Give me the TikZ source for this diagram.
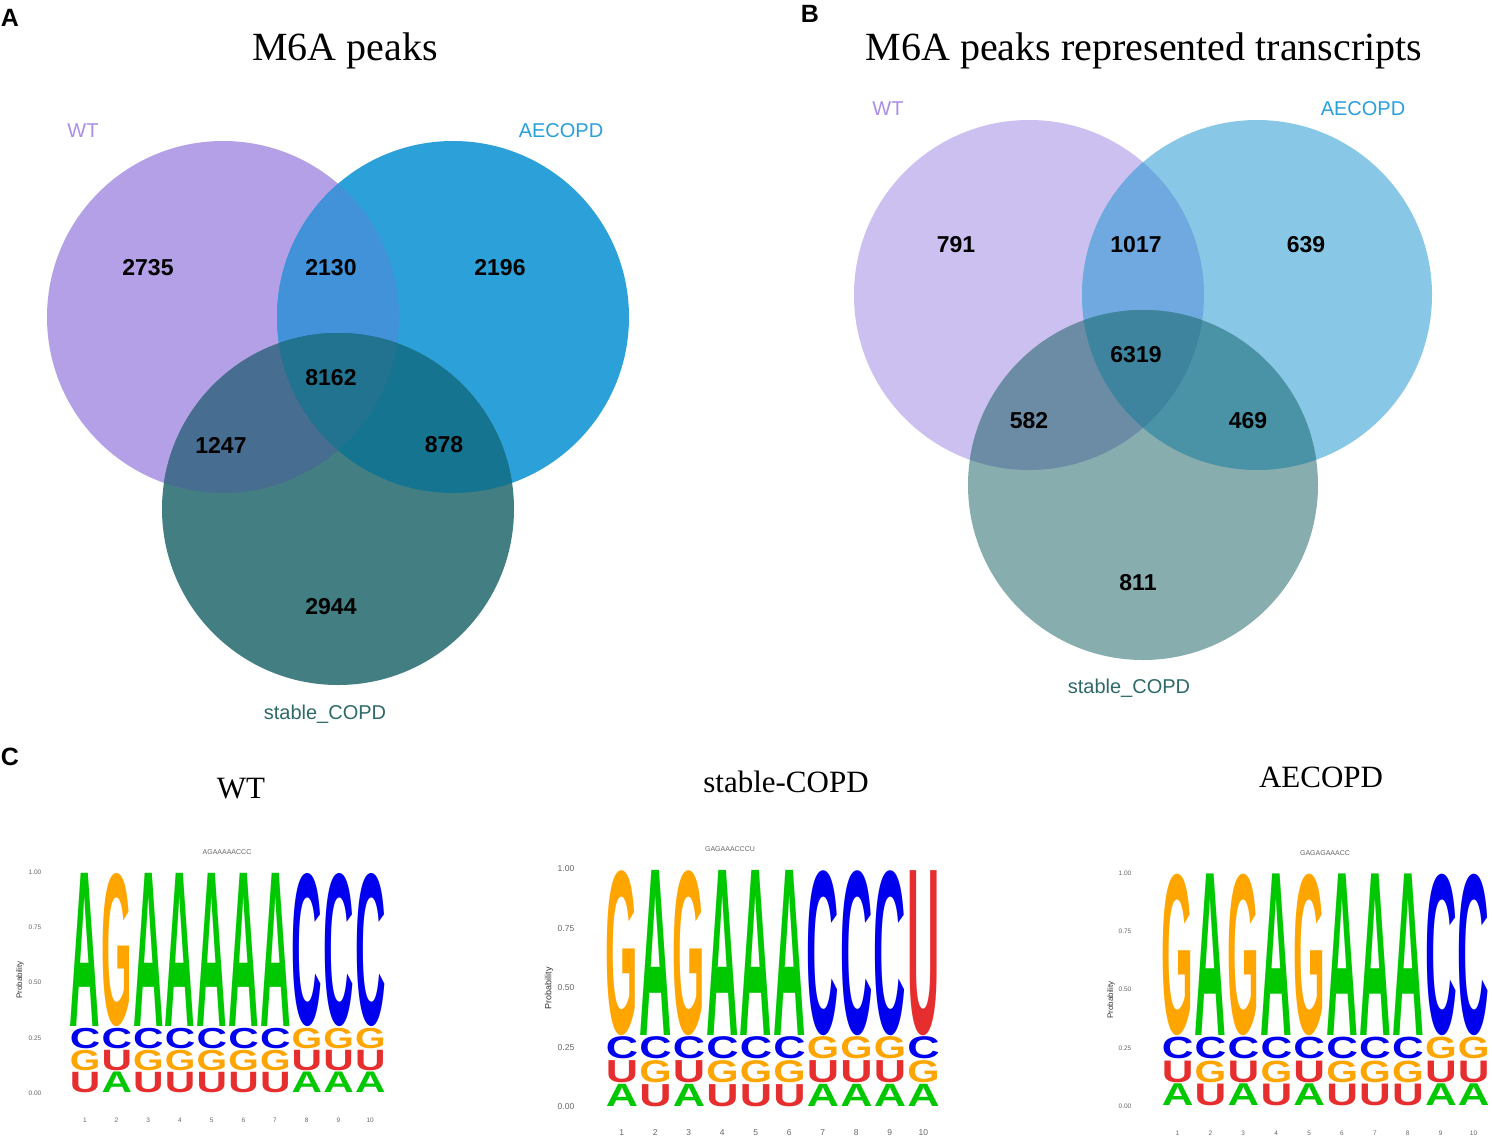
\documentclass[tikz,border=0pt]{standalone}
\usepackage{fontspec}
\setmainfont{Liberation Serif}
\setsansfont{Liberation Sans}
\newfontfamily\logofont{Liberation Sans}
\usepackage{graphicx}
% Venn colours, panel A
\definecolor{wtA}{HTML}{B3A0E6}
\definecolor{aeA}{HTML}{2CA0D8}
\definecolor{stA}{HTML}{437F82}
\definecolor{wtaeA}{HTML}{4292DA}
\definecolor{wtstA}{HTML}{476E90}
\definecolor{aestA}{HTML}{15748F}
\definecolor{allA}{HTML}{22738F}
% Venn colours, panel B
\definecolor{wtB}{HTML}{CCC0F0}
\definecolor{aeB}{HTML}{88C8E6}
\definecolor{stB}{HTML}{87ADAE}
\definecolor{wtaeB}{HTML}{6FA9DF}
\definecolor{wtstB}{HTML}{6C8CA6}
\definecolor{aestB}{HTML}{4A92A6}
\definecolor{allB}{HTML}{3E849E}
% label colours
\definecolor{wtlab}{HTML}{A98FE8}
\definecolor{aelab}{HTML}{2A9FDA}
\definecolor{stlab}{HTML}{2F6A6A}
% nucleotide colours
\definecolor{colA}{HTML}{00C800}
\definecolor{colC}{HTML}{0000EE}
\definecolor{colG}{HTML}{FFA500}
\definecolor{colU}{HTML}{E62E2E}

\tikzset{
  num/.style={font=\sffamily\bfseries\fontsize{23}{23}\selectfont, inner sep=0},
  setlab/.style={font=\sffamily\fontsize{20}{20}\selectfont, inner sep=0, anchor=base},
  bigtitle/.style={font=\fontsize{40}{40}\selectfont, inner sep=0, anchor=base},
  ctitle/.style={font=\fontsize{31}{31}\selectfont, inner sep=0, anchor=base},
  panel/.style={font=\sffamily\bfseries\fontsize{25}{25}\selectfont, inner sep=0},
  logoletter/.style={inner sep=0, anchor=south west, font=\logofont\bfseries},
  ticklab/.style={font=\sffamily\fontsize{7}{7}\selectfont, text=black!60, inner sep=0},
  problab/.style={font=\sffamily\fontsize{8}{8}\selectfont, text=black!80, inner sep=0, rotate=90},
  seqlab/.style={font=\sffamily\fontsize{7}{7}\selectfont, text=black!60, inner sep=0},
}

% #1 id, #2 x0, #3 column width, #4 y top, #5 y bottom, #6 columns (bottom/row1/row2/top)
\newcommand{\drawlogo}[6]{%
  \pgfmathsetmacro{\Hh}{#5-#4}%
  \pgfmathsetmacro{\ww}{#3-1.2}%
  \pgfmathsetmacro{\hs}{0.1*\Hh-1.6}%
  \pgfmathsetmacro{\hb}{0.7*\Hh-1.6}%
  \pgfmathsetmacro{\yA}{#5}%
  \pgfmathsetmacro{\yB}{#5-0.1*\Hh}%
  \pgfmathsetmacro{\yC}{#5-0.2*\Hh}%
  \pgfmathsetmacro{\yD}{#5-0.3*\Hh}%
  \foreach \a/\b/\c/\d [count=\i] in {#6} {
    \pgfmathsetmacro{\xx}{#2+(\i-1)*#3+0.6}
    \node[logoletter, text=col\a] (#1-\i-a) at (\xx,\yA) {\resizebox*{\ww pt}{\hs pt}{\a}};
    \node[logoletter, text=col\b] (#1-\i-b) at (\xx,\yB) {\resizebox*{\ww pt}{\hs pt}{\b}};
    \node[logoletter, text=col\c] (#1-\i-c) at (\xx,\yC) {\resizebox*{\ww pt}{\hs pt}{\c}};
    \node[logoletter, text=col\d] (#1-\i-d) at (\xx,\yD) {\resizebox*{\ww pt}{\hb pt}{\d}};
  }%
}

% #1 id, #2 x0, #3 colw, #4 ytop, #5 ybot, #6 x of y labels, #7 y of x labels, #8 font size
\newcommand{\logoaxes}[8]{%
  \foreach \v/\t [count=\k] in {0/0.00,0.25/0.25,0.5/0.50,0.75/0.75,1/1.00} {
    \pgfmathsetmacro{\yy}{#5-\v*(#5-#4)}
    \node[ticklab, font=\sffamily\fontsize{#8}{#8}\selectfont] (#1-y\k) at (#6,\yy) {\t};
  }
  \foreach \n in {1,...,10} {
    \pgfmathsetmacro{\xx}{#2+(\n-0.5)*#3}
    \node[ticklab, font=\sffamily\fontsize{#8}{#8}\selectfont] (#1-x\n) at (\xx,#7) {\n};
  }
}

\begin{document}
\begin{tikzpicture}[x=1pt,y=-1pt]
\useasboundingbox (0,0) rectangle (1492,1141);
\fill[white] (0,0) rectangle (1492,1141);

% ---------------- Panel A ----------------
\node[panel] (pA) at (10,18) {A};
\node[bigtitle] (tA) at (345,60) {M6A peaks};
\fill[wtA] (223,317) circle[radius=176];
\fill[aeA] (453,317) circle[radius=176];
\fill[stA] (338,509) circle[radius=176];
\begin{scope}\clip (223,317) circle[radius=176]; \fill[wtaeA] (453,317) circle[radius=176];\end{scope}
\begin{scope}\clip (223,317) circle[radius=176]; \fill[wtstA] (338,509) circle[radius=176];\end{scope}
\begin{scope}\clip (453,317) circle[radius=176]; \fill[aestA] (338,509) circle[radius=176];\end{scope}
\begin{scope}\clip (223,317) circle[radius=176]; \clip (453,317) circle[radius=176]; \fill[allA] (338,509) circle[radius=176];\end{scope}
\node[setlab, text=wtlab] (lWTa) at (83,137) {WT};
\node[setlab, text=aelab] (lAEa) at (561,137) {AECOPD};
\node[setlab, text=stlab] (lSTa) at (325,719) {stable\_COPD};
\node[num] (nA1) at (148,268) {2735};
\node[num] (nA2) at (331,268) {2130};
\node[num] (nA3) at (500,268) {2196};
\node[num] (nA4) at (331,378) {8162};
\node[num] (nA5) at (221,445) {1247};
\node[num] (nA6) at (444,445) {878};
\node[num] (nA7) at (331,607) {2944};

% ---------------- Panel B ----------------
\node[panel] (pB) at (810,14) {B};
\node[bigtitle] (tB) at (1144,60) {M6A peaks represented transcripts};
\fill[wtB] (1029,295) circle[radius=175];
\fill[aeB] (1257,295) circle[radius=175];
\fill[stB] (1143,485) circle[radius=175];
\begin{scope}\clip (1029,295) circle[radius=175]; \fill[wtaeB] (1257,295) circle[radius=175];\end{scope}
\begin{scope}\clip (1029,295) circle[radius=175]; \fill[wtstB] (1143,485) circle[radius=175];\end{scope}
\begin{scope}\clip (1257,295) circle[radius=175]; \fill[aestB] (1143,485) circle[radius=175];\end{scope}
\begin{scope}\clip (1029,295) circle[radius=175]; \clip (1257,295) circle[radius=175]; \fill[allB] (1143,485) circle[radius=175];\end{scope}
\node[setlab, text=wtlab] (lWTb) at (888,115) {WT};
\node[setlab, text=aelab] (lAEb) at (1363,115) {AECOPD};
\node[setlab, text=stlab] (lSTb) at (1129,693) {stable\_COPD};
\node[num] (nB1) at (956,245) {791};
\node[num] (nB2) at (1136,245) {1017};
\node[num] (nB3) at (1306,245) {639};
\node[num] (nB4) at (1136,355) {6319};
\node[num] (nB5) at (1029,421) {582};
\node[num] (nB6) at (1248,421) {469};
\node[num] (nB7) at (1138,583) {811};

% ---------------- Panel C ----------------
\node[panel] (pC) at (10,757) {C};
\node[ctitle] (tC1) at (241,798) {WT};
\node[ctitle] (tC2) at (786,792) {stable-COPD};
\node[ctitle] (tC3) at (1321,787) {AECOPD};

% logo 1 (WT)
\node[seqlab] (s1) at (227,852) {AGAAAAACCC};
\node[problab] (p1) at (20,980) {Probability};
\logoaxes{L1}{69}{31.7}{872}{1093}{35}{1120}{6.5}
\drawlogo{L1}{69}{31.7}{872}{1093}{U/G/C/A,A/U/C/G,U/G/C/A,U/G/C/A,U/G/C/A,U/G/C/A,U/G/C/A,A/U/G/C,A/U/G/C,A/U/G/C}

% logo 2 (stable-COPD)
\node[seqlab] (s2) at (730,849) {GAGAAACCCU};
\node[problab, font=\sffamily\fontsize{9}{9}\selectfont] (p2) at (549,988) {Probability};
\logoaxes{L2}{605}{33.5}{869}{1107}{566}{1133}{8.5}
\drawlogo{L2}{605}{33.5}{869}{1107}{A/U/C/G,U/G/C/A,A/U/C/G,U/G/C/A,U/G/C/A,U/G/C/A,A/U/G/C,A/U/G/C,A/U/G/C,A/G/C/U}

% logo 3 (AECOPD)
\node[seqlab] (s3) at (1325,853) {GAGAGAAACC};
\node[problab] (p3) at (1111,1000) {Probability};
\logoaxes{L3}{1161}{32.9}{873}{1106}{1125}{1133}{6.5}
\drawlogo{L3}{1161}{32.9}{873}{1106}{A/U/C/G,U/G/C/A,A/U/C/G,U/G/C/A,A/U/C/G,U/G/C/A,U/G/C/A,U/G/C/A,A/U/G/C,A/U/G/C}
\end{tikzpicture}
\end{document}
